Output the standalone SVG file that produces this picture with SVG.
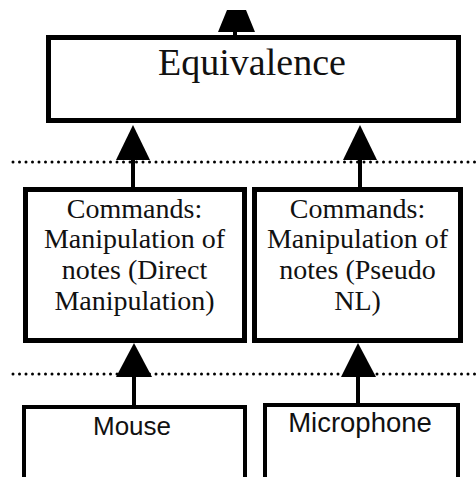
<svg xmlns="http://www.w3.org/2000/svg" width="476" height="477" viewBox="0 0 476 477">
<style>
.box{fill:#fff;stroke:#000;stroke-width:5}
.box2{fill:#fff;stroke:#000;stroke-width:4}
.serif{font-family:"Liberation Serif","Times New Roman",serif;fill:#111;text-anchor:middle}
.sans{font-family:"Liberation Sans",Arial,sans-serif;fill:#111;text-anchor:middle}
.stem{stroke:#000;stroke-width:4;fill:none}
.head{fill:#000;stroke:none}
.dots{stroke:#000;stroke-width:3;stroke-linecap:round;stroke-dasharray:0 6.5;fill:none}
</style>
<rect width="476" height="477" fill="#fff"/>
<g id="separators">
<line class="dots" x1="13" y1="162" x2="476" y2="162"/>
<line class="dots" x1="13" y1="374" x2="476" y2="374"/>
</g>
<g id="connectors">
<line class="stem" x1="235" y1="30" x2="235" y2="36"/>
<polygon class="head" points="227,10 246,10 255,32 218,32"/>
<line class="stem" x1="133" y1="158" x2="133" y2="188"/>
<polygon class="head" points="133,125 150,160 116,160"/>
<line class="stem" x1="360" y1="158" x2="360" y2="188"/>
<polygon class="head" points="360,125 377,160 343,160"/>
<line class="stem" x1="134" y1="375" x2="134" y2="406"/>
<polygon class="head" points="134,343 152,377 116,377"/>
<line class="stem" x1="358" y1="375" x2="358" y2="404"/>
<polygon class="head" points="358,343 376,377 341,377"/>
</g>
<g id="equivalence">
<rect class="box" x="48.5" y="37.5" width="410" height="83"/>
<text class="serif" x="252" y="75" font-size="38">Equivalence</text>
</g>
<g id="cmd-direct">
<rect class="box" x="25.5" y="189.5" width="219" height="151"/>
<text class="serif" font-size="28"><tspan x="134.5" y="218">Commands:</tspan><tspan x="134.5" y="248">Manipulation of</tspan><tspan x="134.5" y="279">notes (Direct</tspan><tspan x="134.5" y="310">Manipulation)</tspan></text>
</g>
<g id="cmd-pseudo">
<rect class="box" x="254.5" y="189.5" width="206" height="151"/>
<text class="serif" font-size="28"><tspan x="357.5" y="218">Commands:</tspan><tspan x="357.5" y="248">Manipulation of</tspan><tspan x="357.5" y="279">notes (Pseudo</tspan><tspan x="357.5" y="310">NL)</tspan></text>
</g>
<g id="mouse">
<rect class="box2" x="24" y="407" width="221" height="100"/>
<text class="sans" x="132" y="435" font-size="26">Mouse</text>
</g>
<g id="microphone">
<rect class="box2" x="265" y="405" width="193" height="100"/>
<text class="sans" x="360" y="432" font-size="27.5">Microphone</text>
</g>
</svg>
